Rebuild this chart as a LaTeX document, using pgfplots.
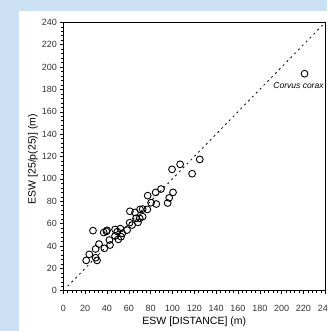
\documentclass[border=0pt]{standalone}
\usepackage{pgfplots}
\pgfplotsset{compat=1.18}
\usepackage{fontspec}
\setmainfont{Liberation Sans}
\definecolor{bgblue}{RGB}{204,224,243}
\begin{document}
\begin{tikzpicture}[x=1pt,y=1pt]
\clip (0,0) rectangle (327,331);
\fill[bgblue] (0,0) rectangle (327,331);
\fill[white] (19,0) rectangle (327,320);
\begin{axis}[
  at={(63.3pt,40.3pt)}, anchor=south west,
  scale only axis, width=262pt, height=268.4pt,
  xmin=0, xmax=240, ymin=0, ymax=240,
  xtick={0,20,...,240}, ytick={0,20,...,240},
  minor tick num=4,
  tick pos=left, tick align=outside,
  major tick length=3pt, minor tick length=2pt,
  every tick/.style={black, line width=0.5pt},
  axis line style={line width=0.8pt},
  tick label style={font=\fontsize{9}{10}\selectfont, text=black!80},
  /pgf/number format/assume math mode=true,
  xlabel={ESW [DISTANCE] (m)},
  ylabel={ESW [25/p(25)] (m)},
  label style={font=\fontsize{10.5}{12}\selectfont},
  xticklabel style={anchor=center, yshift=-14.3pt},
  xlabel style={at={(axis description cs:0.5,0)}, anchor=center, yshift=-30.7pt},
  ylabel style={at={(axis description cs:0,0.49)}, anchor=center, yshift=30.3pt},
  clip=false,
]
\addplot[black, line width=0.8pt, dash pattern=on 2pt off 3.5pt] coordinates {(4,4) (240,240)};
\addplot[only marks, mark=o, mark size=3.4pt, mark options={line width=0.9pt, black}] coordinates {
(221,194) (125,117.4) (118,104.6) (107,113) (99.6,108.5) (100.5,87.9) (97,83) (95.6,78.4)
(89.5,90.9) (84.6,87.9) (85.2,77.5) (77.3,85) (80.4,78.7) (77,72.7) (72.7,73) (70.3,72.7)
(72.7,66.2) (70,64.7) (65.7,70) (68.4,61.1) (66.6,64.7) (61,71) (60.8,60.8) (63,58.7)
(58.4,54.2) (54,51.3) (52.3,55.5) (49.5,52.8) (47.4,54.8) (47.4,48.9) (50.4,45.9) (52.9,48.3)
(27.2,53.7) (37,52) (40,54) (39.5,53) (42.2,45.3) (42.8,40.8) (37.6,37.9) (32.7,41.7)
(29.6,37.3) (23.8,32.5) (21,27.1) (30.9,27.1) (29.6,29.5)
};
\node[anchor=east, font=\fontsize{8.5}{10}\selectfont\itshape, inner sep=1pt] at (axis cs:239.5,183) {Corvus corax};
\end{axis}
\end{tikzpicture}
\end{document}
